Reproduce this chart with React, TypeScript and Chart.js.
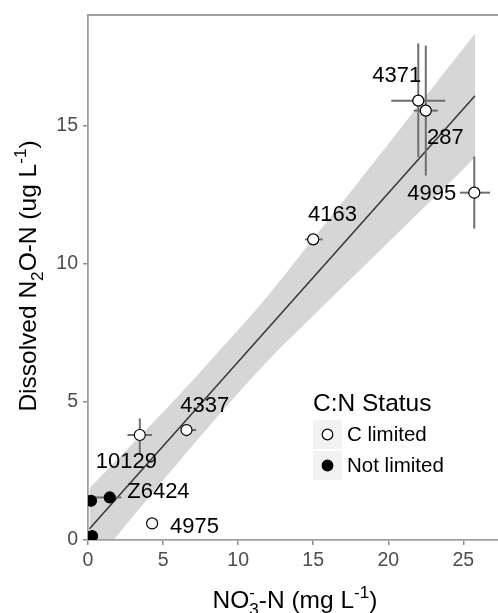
import React, { useEffect, useRef } from 'react';
import { Chart, registerables } from 'chart.js';

Chart.register(...registerables);

// ---- Data ----
const cLimitedNames = ['4371', '287', '4995', '4163', '4337', '10129', '4975'];
const cLimitedX = [22.0, 22.5, 25.73, 15.0, 6.56, 3.45, 4.27];
const cLimitedY = [15.9, 15.54, 12.57, 10.88, 3.98, 3.8, 0.6];
const cLimitedXLo = [20.2, 21.7, 24.78, 14.45, 6.2, 2.63, 4.2];
const cLimitedXHi = [23.8, 23.3, 26.78, 15.63, 7.2, 4.27, 4.34];
const cLimitedYLo = [13.85, 13.19, 11.27, 10.8, 3.8, 3.07, 0.55];
const cLimitedYHi = [17.97, 17.89, 13.88, 10.96, 4.16, 4.4, 0.65];

const notLimitedNames = ['Z6424', '', ''];
const notLimitedX = [1.45, 0.2, 0.27];
const notLimitedY = [1.54, 1.42, 0.14];
const notLimitedXLo = [0.45, 0.2, 0.27];
const notLimitedXHi = [2.22, 0.2, 0.27];
const notLimitedYLo = [1.54, 1.42, 0.14];
const notLimitedYHi = [1.54, 1.42, 0.14];

const fitX = [0.1, 25.78];
const fitY = [0.41, 16.08];

const bandX = [0.1, 3, 6, 9, 12, 15, 18, 21, 24, 25.78];
const bandUpper = [1.88, 3.5, 5.2, 7.0, 8.85, 10.9, 12.95, 15.02, 17.1, 18.33];
const bandLower = [-1.06, 0.86, 2.8, 4.7, 6.5, 8.12, 9.71, 11.3, 12.88, 13.85];

const labelNames = ['4371', '287', '4995', '4163', '4337', '10129', 'Z6424', '4975'];
const labelX = [20.56, 23.81, 22.89, 16.28, 7.78, 2.56, 4.69, 7.09];
const labelY = [16.81, 14.56, 12.53, 11.78, 4.84, 2.83, 1.75, 0.48];

const xTicks = [0, 5, 10, 15, 20, 25];
const yTicks = [0, 5, 10, 15];

const legendTitle = 'C:N Status';
const legendLabels = ['C limited', 'Not limited'];

const FONT = "'Liberation Sans', Arial, Helvetica, sans-serif";

type Seg = { t?: string; sub?: string; sup?: string };

function segWidth(ctx: CanvasRenderingContext2D, s: Seg, size: number) {
  if (s.t) {
    ctx.font = `${size}px ${FONT}`;
    return ctx.measureText(s.t).width;
  }
  ctx.font = `${size * 0.7}px ${FONT}`;
  const a = s.sub ? ctx.measureText(s.sub).width : 0;
  const b = s.sup ? ctx.measureText(s.sup).width : 0;
  return Math.max(a, b);
}

function drawRich(ctx: CanvasRenderingContext2D, segs: Seg[], cx: number, baseline: number, size: number) {
  let total = 0;
  segs.forEach((s) => (total += segWidth(ctx, s, size)));
  let x = cx - total / 2;
  ctx.textAlign = 'left';
  ctx.textBaseline = 'alphabetic';
  segs.forEach((s) => {
    const w = segWidth(ctx, s, size);
    if (s.t) {
      ctx.font = `${size}px ${FONT}`;
      ctx.fillText(s.t, x, baseline);
    } else {
      ctx.font = `${size * 0.7}px ${FONT}`;
      if (s.sub) ctx.fillText(s.sub, x, baseline + size * 0.28);
      if (s.sup) ctx.fillText(s.sup, x, baseline - size * 0.42);
    }
    x += w;
  });
}

const decorPlugin = {
  id: 'decor',
  afterDatasetDraw(chart: any, args: any) {
    if (args.index !== 2) return;
    const { ctx, chartArea, scales } = chart;
    const xs = scales.x;
    const ys = scales.y;
    ctx.save();
    ctx.beginPath();
    ctx.rect(chartArea.left, chartArea.top, chartArea.right - chartArea.left, chartArea.bottom - chartArea.top);
    ctx.clip();
    ctx.strokeStyle = '#6e6e6e';
    ctx.lineWidth = 2;
    const bars = (X: number[], Y: number[], XL: number[], XH: number[], YL: number[], YH: number[]) => {
      for (let i = 0; i < X.length; i++) {
        if (XH[i] > XL[i]) {
          ctx.beginPath();
          ctx.moveTo(xs.getPixelForValue(XL[i]), ys.getPixelForValue(Y[i]));
          ctx.lineTo(xs.getPixelForValue(XH[i]), ys.getPixelForValue(Y[i]));
          ctx.stroke();
        }
        if (YH[i] > YL[i]) {
          ctx.beginPath();
          ctx.moveTo(xs.getPixelForValue(X[i]), ys.getPixelForValue(YL[i]));
          ctx.lineTo(xs.getPixelForValue(X[i]), ys.getPixelForValue(YH[i]));
          ctx.stroke();
        }
      }
    };
    bars(cLimitedX, cLimitedY, cLimitedXLo, cLimitedXHi, cLimitedYLo, cLimitedYHi);
    bars(notLimitedX, notLimitedY, notLimitedXLo, notLimitedXHi, notLimitedYLo, notLimitedYHi);
    ctx.restore();
  },
  afterDatasetsDraw(chart: any) {
    const { ctx, chartArea, scales } = chart;
    const xs = scales.x;
    const ys = scales.y;
    ctx.save();
    // labels
    ctx.fillStyle = '#000';
    ctx.font = `22px ${FONT}`;
    ctx.textAlign = 'center';
    ctx.textBaseline = 'middle';
    labelNames.forEach((n, i) => {
      ctx.fillText(n, xs.getPixelForValue(labelX[i]), ys.getPixelForValue(labelY[i]));
    });
    // top border line
    ctx.strokeStyle = '#a0a0a0';
    ctx.lineWidth = 1.8;
    ctx.beginPath();
    ctx.moveTo(chartArea.left - 0.9, chartArea.top);
    ctx.lineTo(chartArea.right, chartArea.top);
    ctx.stroke();

    // legend
    const lx = 313;
    ctx.fillStyle = '#000';
    ctx.font = `24.5px ${FONT}`;
    ctx.textAlign = 'left';
    ctx.textBaseline = 'middle';
    ctx.fillText(legendTitle, lx, 404);
    const keyTops = [420, 451];
    keyTops.forEach((top, i) => {
      ctx.fillStyle = '#f2f2f2';
      ctx.fillRect(lx, top, 29, 29);
      ctx.beginPath();
      ctx.arc(lx + 14.5, top + 14.5, 5.3, 0, Math.PI * 2);
      ctx.fillStyle = i === 0 ? '#fff' : '#000';
      ctx.fill();
      ctx.lineWidth = 1.2;
      ctx.strokeStyle = '#000';
      ctx.stroke();
      ctx.fillStyle = '#000';
      ctx.font = `20.5px ${FONT}`;
      ctx.fillText(legendLabels[i], lx + 34, top + 15.5);
    });

    // axis titles
    ctx.fillStyle = '#000';
    drawRich(ctx, [{ t: 'NO' }, { sub: '3', sup: '-' }, { t: '-N (mg L' }, { sup: '-1' }, { t: ')' }], 295, 608, 24.5);
    ctx.save();
    ctx.translate(36, 276);
    ctx.rotate(-Math.PI / 2);
    drawRich(ctx, [{ t: 'Dissolved N' }, { sub: '2' }, { t: 'O-N (ug L' }, { sup: '-1' }, { t: ')' }], 0, 0, 24.5);
    ctx.restore();
    ctx.restore();
  },
};

export default function App() {
  const ref = useRef<HTMLCanvasElement | null>(null);
  useEffect(() => {
    document.body.style.margin = '0';
    const canvas = ref.current;
    if (!canvas) return;
    const chart = new Chart(canvas, {
      type: 'scatter',
      data: {
        datasets: [
          {
            label: 'C limited',
            data: cLimitedX.map((x, i) => ({ x, y: cLimitedY[i] })),
            pointRadius: 5.5,
            pointBorderWidth: 1.2,
            pointBorderColor: '#000',
            pointBackgroundColor: '#fff',
            order: 0,
            clip: 0,
          } as any,
          {
            label: 'Not limited',
            data: notLimitedX.map((x, i) => ({ x, y: notLimitedY[i] })),
            pointRadius: 5.5,
            pointBorderWidth: 1.2,
            pointBorderColor: '#000',
            pointBackgroundColor: '#000',
            order: 1,
            clip: 0,
          } as any,
          {
            label: 'fit',
            data: fitX.map((x, i) => ({ x, y: fitY[i] })),
            showLine: true,
            borderColor: '#3a3a3a',
            borderWidth: 1.6,
            pointRadius: 0,
            order: 2,
            clip: 0,
          } as any,
          {
            label: 'upper',
            data: bandX.map((x, i) => ({ x, y: bandUpper[i] })),
            showLine: true,
            borderWidth: 0,
            borderColor: 'rgba(0,0,0,0)',
            backgroundColor: 'rgba(153,153,153,0.4)',
            fill: '+1',
            tension: 0.4,
            pointRadius: 0,
            order: 3,
            clip: 0,
          } as any,
          {
            label: 'lower',
            data: bandX.map((x, i) => ({ x, y: bandLower[i] })),
            showLine: true,
            borderWidth: 0,
            borderColor: 'rgba(0,0,0,0)',
            fill: false,
            tension: 0.4,
            pointRadius: 0,
            order: 4,
            clip: 0,
          } as any,
        ],
      },
      options: {
        animation: false,
        responsive: false,
        devicePixelRatio: 1,
        layout: { autoPadding: false, padding: { top: 15, right: 0, left: 0, bottom: 0 } },
        plugins: { legend: { display: false }, tooltip: { enabled: false } },
        scales: {
          x: {
            type: 'linear',
            min: 0,
            max: 27.31,
            afterFit: (s: any) => {
              s.height = 73;
              s.paddingLeft = 0;
              s.paddingRight = 0;
            },
            afterBuildTicks: (s: any) => {
              s.ticks = xTicks.map((v) => ({ value: v }));
            },
            ticks: {
              color: '#4d4d4d',
              font: { size: 19.5, family: FONT },
              padding: 4,
              maxRotation: 0,
              autoSkip: false,
            },
            grid: { drawOnChartArea: false, drawTicks: true, tickLength: 5, color: '#8c8c8c', lineWidth: 1.5 },
            border: { color: '#a0a0a0', width: 1.8 },
          },
          y: {
            type: 'linear',
            min: 0,
            max: 19,
            afterFit: (s: any) => {
              s.width = 88;
              s.paddingTop = 0;
              s.paddingBottom = 0;
            },
            afterBuildTicks: (s: any) => {
              s.ticks = yTicks.map((v) => ({ value: v }));
            },
            ticks: {
              color: '#4d4d4d',
              font: { size: 19.5, family: FONT },
              padding: 5,
              autoSkip: false,
            },
            grid: { drawOnChartArea: false, drawTicks: true, tickLength: 5, color: '#8c8c8c', lineWidth: 1.5 },
            border: { color: '#a0a0a0', width: 1.8 },
          },
        },
      } as any,
      plugins: [decorPlugin],
    });
    return () => chart.destroy();
  }, []);
  return (
    <div style={{ width: 498, height: 613 }}>
      <canvas ref={ref} width={498} height={613} style={{ display: 'block', width: 498, height: 613 }} />
    </div>
  );
}
